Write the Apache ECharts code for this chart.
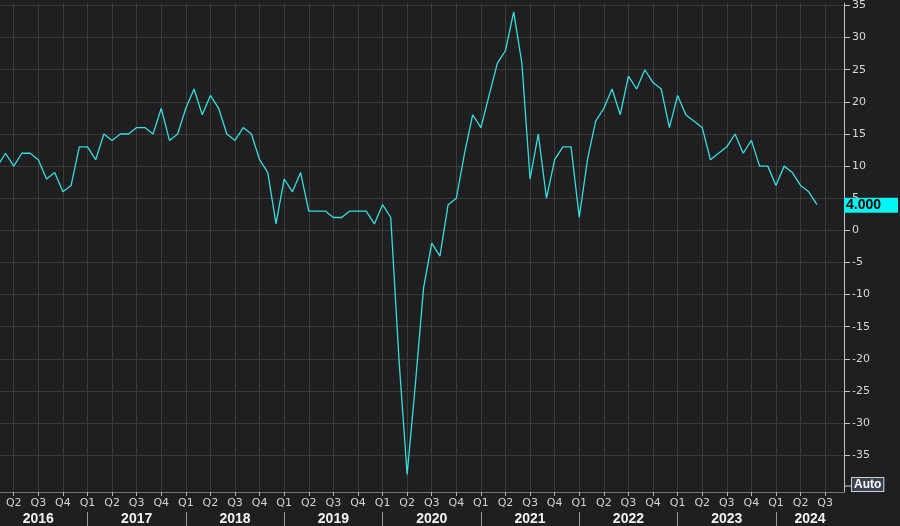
<!DOCTYPE html>
<html><head><meta charset="utf-8">
<script src="https://cdn.jsdelivr.net/npm/echarts@6/dist/echarts.min.js"></script>
<style>html,body{margin:0;padding:0;background:#1f1e21;}#c{width:900px;height:526px;}</style>
</head><body><div id="c"></div>
<script>
// Monthly series, first observation Feb 2016
const startMonth = '2016-02';
const values = [
  10, 12, 10, 12, 12, 11, 8, 9, 6, 7, 13,            // 2016 Feb-Dec
  13, 11, 15, 14, 15, 15, 16, 16, 15, 19, 14, 15,     // 2017
  19, 22, 18, 21, 19, 15, 14, 16, 15, 11, 9, 1,       // 2018
  8, 6, 9, 3, 3, 3, 2, 2, 3, 3, 3, 1,                 // 2019
  4, 2, -20, -38, -24, -9, -2, -4, 4, 5, 12, 18,      // 2020
  16, 21, 26, 28, 34, 26, 8, 15, 5, 11, 13, 13,       // 2021
  2, 11, 17, 19, 22, 18, 24, 22, 25, 23, 22, 16,      // 2022
  21, 18, 17, 16, 11, 12, 13, 15, 12, 14, 10, 10,     // 2023
  7, 10, 9, 7, 6, 4                                   // 2024 Jan-Jun
];
const yTicks = [-35, -30, -25, -20, -15, -10, -5, 0, 5, 10, 15, 20, 25, 30, 35];
const quarterNames = ['Q1', 'Q2', 'Q3', 'Q4'];
const years = [2016, 2017, 2018, 2019, 2020, 2021, 2022, 2023, 2024];
const baseYear = 2016;
// visible window, in months since Jan 2016
const xMin = 1.325, xMax = 104.3;
const yMin = -40.72, yMax = 35.37;

function monthIndex(s) { const p = s.split('-'); return (+p[0] - baseYear) * 12 + (+p[1] - 1); }
const startIdx = monthIndex(startMonth);
const seriesData = values.map((v, i) => [startIdx + i, v]);
const lastValue = values[values.length - 1];

const quarterPos = [];
for (let k = 0; k <= xMax; k += 3) if (k >= xMin) quarterPos.push(k);
const yearStarts = years.map(y => (y - baseYear) * 12).filter(k => k >= xMin);
const yearLabelPos = years.map(y => {
  const a = Math.max((y - baseYear) * 12, 0), b = Math.min((y - baseYear + 1) * 12, xMax);
  return (a + b) / 2;
});

const chart = echarts.init(document.getElementById('c'), null, { renderer: 'canvas' });
chart.setOption({
  backgroundColor: '#1f1e21',
  animation: false,
  grid: { left: 0, right: 56, top: 0, bottom: 34, containLabel: false },
  xAxis: [{
    type: 'value', min: xMin, max: xMax, position: 'bottom',
    axisLine: { show: true, onZero: false, lineStyle: { color: '#707070', width: 1 } },
    axisTick: { show: true, customValues: quarterPos, length: 4, lineStyle: { color: '#b0b0b0' } },
    axisLabel: {
      customValues: quarterPos, margin: 6, color: '#d4d4d4', fontFamily: 'DejaVu Sans', fontSize: 11,
      formatter: v => quarterNames[Math.round(v / 3) % 4]
    },
    splitLine: { show: true, lineStyle: { color: '#383e35', width: 1 } }
  }, {
    type: 'value', min: xMin, max: xMax, position: 'bottom', offset: 20,
    axisLine: { show: false, onZero: false },
    axisTick: { show: true, customValues: yearStarts, length: 14, lineStyle: { color: '#9a9a9a' } },
    axisLabel: {
      customValues: yearLabelPos, margin: 0, color: '#f2f2f2', fontFamily: 'Liberation Sans',
      fontWeight: 'bold', fontSize: 14,
      formatter: v => String(baseYear + Math.floor(v / 12))
    },
    splitLine: { show: false }
  }],
  yAxis: {
    type: 'value', min: yMin, max: yMax, position: 'right',
    axisLine: { show: true, onZero: false, lineStyle: { color: '#c4c4c4', width: 1 } },
    axisTick: { show: true, customValues: yTicks, length: 6, lineStyle: { color: '#c4c4c4' } },
    axisLabel: { customValues: yTicks, margin: 8, color: '#d8d8d8', fontFamily: 'DejaVu Sans', fontSize: 11 },
    splitLine: { show: true, lineStyle: { color: '#3a3b39', width: 1 } },
    axisPointer: {
      show: true, type: 'line', value: lastValue, status: 'show', triggerTooltip: false,
      lineStyle: { opacity: 0 },
      label: {
        show: true, formatter: () => lastValue.toFixed(3), backgroundColor: '#00f5f5', color: '#000',
        fontWeight: 'bold', fontFamily: 'Liberation Sans', fontSize: 14, lineHeight: 15,
        padding: [0, 17, 0, 2], margin: 0, borderRadius: 0
      }
    }
  },
  series: [{
    type: 'line', xAxisIndex: 0, data: seriesData, showSymbol: false, symbol: 'none',
    lineStyle: { color: '#37dede', width: 1.3 }, clip: true
  }],
  graphic: [
    { type: 'line', shape: { x1: 844, y1: 486, x2: 852, y2: 486 }, style: { stroke: '#cfcfcf', lineWidth: 1 } },
    {
      type: 'text', left: 851, top: 477,
      style: {
        text: 'Auto', fill: '#ffffff', font: 'bold 12px "Liberation Sans"',
        backgroundColor: '#3a4250', borderColor: '#d0d0d0', borderWidth: 1, padding: [1, 2, 0, 2]
      }
    }
  ]
});
</script></body></html>
